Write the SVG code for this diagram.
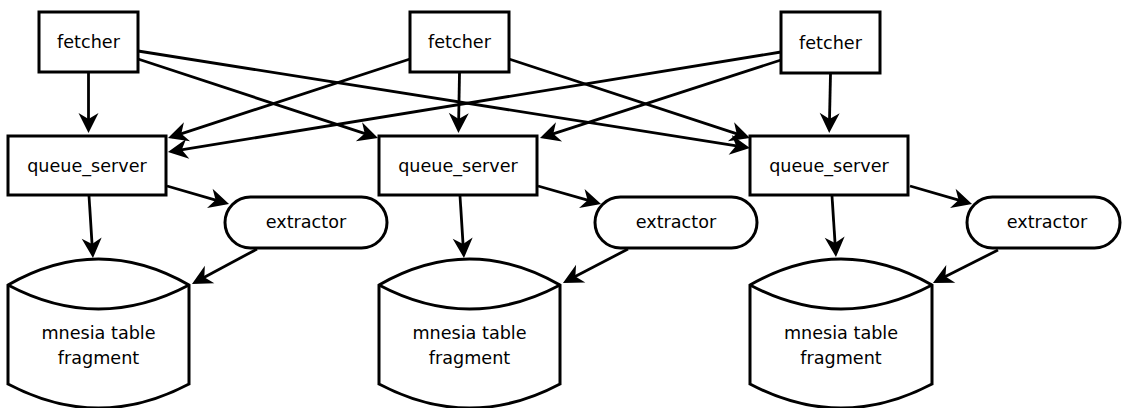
<svg xmlns="http://www.w3.org/2000/svg" width="1122" height="408" viewBox="0 0 1122 408">
  <defs>
    <style>
      .box { fill: #ffffff; stroke: #000000; stroke-width: 3; }
      .edge { fill: none; stroke: #000000; stroke-width: 2.8; marker-end: url(#arrow); }
      .label { font-family: "DejaVu Sans", "Liberation Sans", sans-serif; font-size: 17.6px; fill: #000000; text-anchor: middle; }
    </style>
    <marker id="arrow" markerUnits="userSpaceOnUse" markerWidth="24" markerHeight="24" viewBox="-18 -12 24 24" refX="0" refY="0" orient="auto" overflow="visible">
      <path d="M4,0 L-16,-10 L-10,0 L-16,10 Z" fill="#000000"/>
    </marker>
  </defs>
  <rect width="1122" height="408" fill="#ffffff"/>

  <!-- connectors -->
  <g id="edges">
    <!-- fetchers to queue servers -->
    <line class="edge" x1="88.5" y1="73" x2="88.5" y2="129"/>
    <line class="edge" x1="138" y1="59" x2="374.2" y2="136.7"/>
    <line class="edge" x1="138" y1="51" x2="746" y2="147.4"/>
    <line class="edge" x1="410" y1="59" x2="171.8" y2="136.8"/>
    <line class="edge" x1="459.5" y1="73" x2="458.5" y2="129"/>
    <line class="edge" x1="509" y1="59" x2="746.2" y2="136.8"/>
    <line class="edge" x1="781" y1="52" x2="171.9" y2="151.4"/>
    <line class="edge" x1="781" y1="60" x2="543.8" y2="136.8"/>
    <line class="edge" x1="830.5" y1="74" x2="829.3" y2="129"/>
    <!-- queue servers to storage -->
    <line class="edge" x1="89" y1="196" x2="92.7" y2="254"/>
    <line class="edge" x1="460" y1="196" x2="463.7" y2="254"/>
    <line class="edge" x1="832" y1="196" x2="835.7" y2="253"/>
    <!-- queue servers to extractors -->
    <line class="edge" x1="167" y1="186" x2="225.2" y2="202.9"/>
    <line class="edge" x1="538" y1="186" x2="597.2" y2="202.9"/>
    <line class="edge" x1="910" y1="186" x2="968.2" y2="202.9"/>
    <!-- extractors to storage -->
    <line class="edge" x1="257" y1="249" x2="195.5" y2="282.1"/>
    <line class="edge" x1="628" y1="249" x2="566.5" y2="281.1"/>
    <line class="edge" x1="998" y1="250" x2="936.5" y2="281.1"/>
  </g>

  <!-- column 1 -->
  <g id="fetcher1">
    <rect class="box" x="39" y="12" width="99" height="60"/>
    <text class="label" x="88.5" y="48">fetcher</text>
  </g>
  <g id="queue_server1">
    <rect class="box" x="8" y="136" width="158" height="59"/>
    <text class="label" x="87" y="171.5">queue_server</text>
  </g>
  <g id="extractor1">
    <rect class="box" x="225" y="197" width="162" height="51" rx="25.5" ry="25.5"/>
    <text class="label" x="306" y="228">extractor</text>
  </g>
  <g id="mnesia1">
    <path class="box" d="M8,285 Q98.5,233 189,285 L189,384 Q98.5,432 8,384 Z"/>
    <path class="box" fill="none" d="M8,285 Q98.5,333 189,285"/>
    <text class="label" x="98.5" y="339">mnesia table</text>
    <text class="label" x="98.5" y="364">fragment</text>
  </g>

  <!-- column 2 -->
  <g id="fetcher2">
    <rect class="box" x="410" y="12" width="99" height="60"/>
    <text class="label" x="459.5" y="48">fetcher</text>
  </g>
  <g id="queue_server2">
    <rect class="box" x="379" y="136" width="158" height="59"/>
    <text class="label" x="458" y="171.5">queue_server</text>
  </g>
  <g id="extractor2">
    <rect class="box" x="595" y="197" width="162" height="51" rx="25.5" ry="25.5"/>
    <text class="label" x="676" y="228">extractor</text>
  </g>
  <g id="mnesia2">
    <path class="box" d="M379,285 Q469.5,233 560,285 L560,384 Q469.5,432 379,384 Z"/>
    <path class="box" fill="none" d="M379,285 Q469.5,333 560,285"/>
    <text class="label" x="469.5" y="339">mnesia table</text>
    <text class="label" x="469.5" y="364">fragment</text>
  </g>

  <!-- column 3 -->
  <g id="fetcher3">
    <rect class="box" x="781" y="12" width="99" height="61"/>
    <text class="label" x="830.5" y="48.5">fetcher</text>
  </g>
  <g id="queue_server3">
    <rect class="box" x="750" y="136" width="158" height="59"/>
    <text class="label" x="829" y="171.5">queue_server</text>
  </g>
  <g id="extractor3">
    <rect class="box" x="967" y="197" width="153" height="51" rx="25.5" ry="25.5"/>
    <text class="label" x="1047" y="228">extractor</text>
  </g>
  <g id="mnesia3">
    <path class="box" d="M750,285 Q841,233 932,285 L932,384 Q841,432 750,384 Z"/>
    <path class="box" fill="none" d="M750,285 Q841,333 932,285"/>
    <text class="label" x="841" y="339">mnesia table</text>
    <text class="label" x="841" y="364">fragment</text>
  </g>
</svg>
